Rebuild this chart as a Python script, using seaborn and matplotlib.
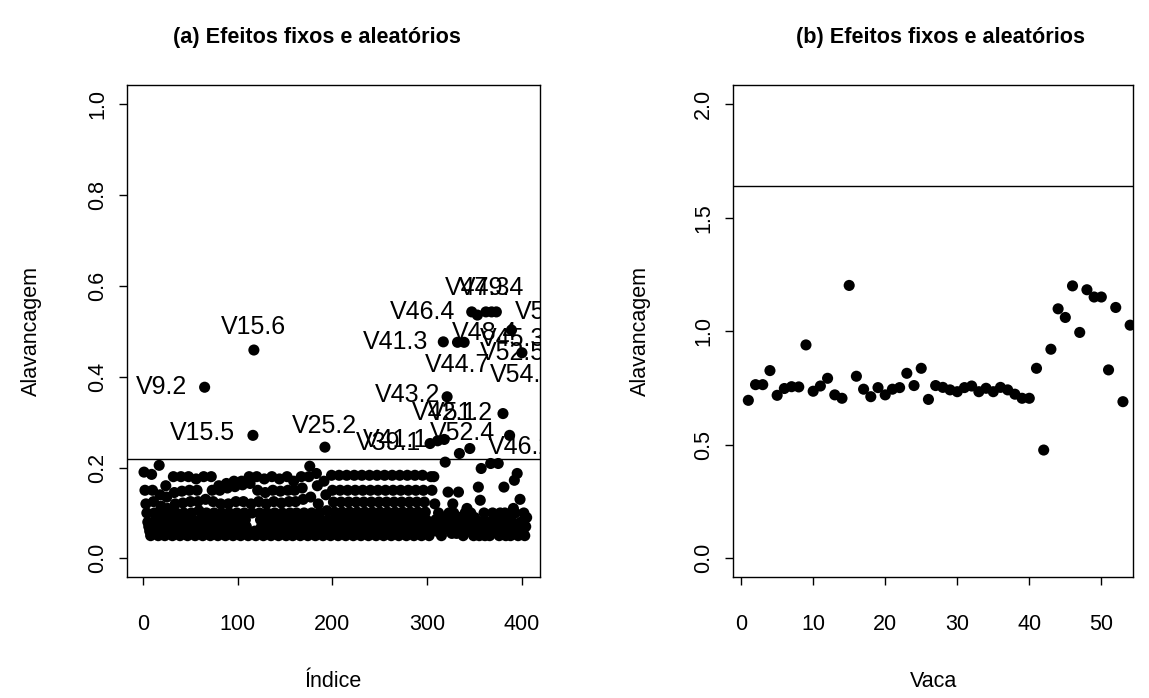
import matplotlib
matplotlib.use("Agg")
import matplotlib.pyplot as plt
import pandas as pd
import seaborn as sns

# ------------------------------------------------------------
# (a) leverage of each observation, one row per cow (V1 .. V54)
# ------------------------------------------------------------
leverage_obs = [
    0.190, 0.150, 0.120, 0.100, 0.080, 0.070, 0.060, 0.050,   # V1
    0.185, 0.150, 0.125, 0.100, 0.085, 0.065, 0.055, 0.050,   # V2
    0.205, 0.140, 0.115, 0.095, 0.080, 0.065, 0.050,          # V3
    0.160, 0.135, 0.110, 0.095, 0.080, 0.070, 0.060, 0.050,   # V4
    0.180, 0.145, 0.120, 0.100, 0.085, 0.070, 0.060, 0.050,   # V5
    0.180, 0.148, 0.122, 0.100, 0.085, 0.070, 0.060, 0.050,   # V6
    0.180, 0.150, 0.125, 0.100, 0.085, 0.070, 0.060, 0.050,   # V7
    0.175, 0.150, 0.125, 0.105, 0.085, 0.070, 0.060, 0.050,   # V8
    0.180, 0.377, 0.130, 0.100, 0.085, 0.070, 0.060, 0.050,   # V9
    0.180, 0.150, 0.125, 0.100, 0.085, 0.070, 0.060, 0.050,   # V10
    0.160, 0.150, 0.120, 0.100, 0.085, 0.070, 0.060, 0.050,   # V11
    0.165, 0.155, 0.120, 0.100, 0.085, 0.070, 0.060, 0.050,   # V12
    0.170, 0.158, 0.125, 0.100, 0.085, 0.070, 0.060, 0.050,   # V13
    0.170, 0.162, 0.125, 0.100, 0.085, 0.070, 0.060, 0.050,   # V14
    0.180, 0.165, 0.120, 0.100, 0.271, 0.459, 0.060, 0.050,   # V15
    0.180, 0.150, 0.125, 0.100, 0.085, 0.070, 0.060, 0.050,   # V16
    0.175, 0.145, 0.120, 0.100, 0.085, 0.070, 0.060, 0.050,   # V17
    0.180, 0.150, 0.125, 0.100, 0.085, 0.070, 0.060, 0.050,   # V18
    0.175, 0.148, 0.122, 0.100, 0.085, 0.070, 0.060, 0.050,   # V19
    0.180, 0.150, 0.125, 0.100, 0.080, 0.065, 0.050,          # V20
    0.170, 0.150, 0.125, 0.100, 0.085, 0.070, 0.060, 0.050,   # V21
    0.180, 0.155, 0.130, 0.100, 0.085, 0.070, 0.060, 0.050,   # V22
    0.180, 0.203, 0.135, 0.100, 0.085, 0.070, 0.060, 0.050,   # V23
    0.187, 0.160, 0.120, 0.100, 0.085, 0.070, 0.060, 0.050,   # V24
    0.170, 0.245, 0.140, 0.105, 0.085, 0.070, 0.060, 0.050,   # V25
    0.183, 0.150, 0.124, 0.102, 0.085, 0.070, 0.060, 0.050,   # V26
    0.183, 0.150, 0.124, 0.102, 0.085, 0.070, 0.060, 0.050,   # V27
    0.183, 0.150, 0.124, 0.102, 0.085, 0.070, 0.060, 0.050,   # V28
    0.183, 0.150, 0.124, 0.102, 0.085, 0.070, 0.060, 0.050,   # V29
    0.183, 0.150, 0.124, 0.102, 0.085, 0.070, 0.060, 0.050,   # V30
    0.183, 0.150, 0.124, 0.102, 0.085, 0.070, 0.060, 0.050,   # V31
    0.183, 0.150, 0.124, 0.102, 0.085, 0.070, 0.060, 0.050,   # V32
    0.183, 0.150, 0.124, 0.102, 0.085, 0.070, 0.060, 0.050,   # V33
    0.183, 0.150, 0.124, 0.102, 0.085, 0.070, 0.060, 0.050,   # V34
    0.183, 0.150, 0.124, 0.102, 0.085, 0.070, 0.060, 0.050,   # V35
    0.183, 0.150, 0.124, 0.102, 0.085, 0.070, 0.060, 0.050,   # V36
    0.183, 0.150, 0.124, 0.102, 0.085, 0.070, 0.060, 0.050,   # V37
    0.183, 0.150, 0.124, 0.102, 0.085, 0.070, 0.060, 0.050,   # V38
    0.253, 0.180, 0.150, 0.070,                               # V39
    0.180, 0.120, 0.085, 0.060,                               # V40
    0.259, 0.100, 0.080, 0.060, 0.050, 0.070, 0.477, 0.262,   # V41
    0.212, 0.090,                                             # V42
    0.356, 0.146, 0.100, 0.080, 0.060, 0.055,                 # V43
    0.120, 0.100, 0.080, 0.065, 0.055, 0.476, 0.146, 0.231,   # V44
    0.090, 0.070, 0.060, 0.050, 0.476, 0.100, 0.080, 0.110,   # V45
    0.085, 0.060, 0.242, 0.100, 0.543, 0.070, 0.050,          # V46
    0.090, 0.070, 0.060, 0.536, 0.157, 0.050, 0.128,          # V47
    0.198, 0.080, 0.060, 0.100, 0.050, 0.543, 0.070,          # V48
    0.080, 0.060, 0.050, 0.209, 0.543, 0.100, 0.070,          # V49
    0.090, 0.070, 0.543, 0.060, 0.209, 0.050, 0.100,          # V50
    0.080, 0.060, 0.319, 0.157, 0.100, 0.050, 0.070,          # V51
    0.090, 0.060, 0.271, 0.050, 0.503, 0.080, 0.110,          # V52
    0.172, 0.100, 0.070, 0.187, 0.050, 0.060,                 # V53
    0.130, 0.080, 0.453, 0.060, 0.100, 0.050, 0.070, 0.090,   # V54
]
cutoff_a = 0.22

# labels of the flagged observations: text, x, y, alignment
label_text = ["V9.2", "V15.6", "V15.5", "V25.2", "V39.1", "V41.1", "V52.4",
              "V46.2", "V43.2", "V42.1", "V51.2", "V44.7", "V41.3", "V48.4",
              "V45.3", "V52.5", "V54.7", "V46.4", "V47.3", "V49.4", "V50.3"]
label_x = [46.1, 116.1, 97.1, 192.0, 293.4, 300.8, 337.0,
           364.0, 313.5, 283.9, 369.4, 332.0, 300.8, 326.0,
           355.7, 355.7, 366.0, 329.3, 353.6, 368.3, 392.6]
label_y = [0.378, 0.510, 0.276, 0.291, 0.255, 0.260, 0.276,
           0.245, 0.359, 0.320, 0.320, 0.425, 0.477, 0.496,
           0.483, 0.452, 0.404, 0.543, 0.595, 0.595, 0.543]
label_ha = ["right", "center", "right", "center", "right", "right", "center",
            "left", "right", "left", "right", "center", "right", "left",
            "left", "left", "left", "right", "center", "center", "left"]

# ------------------------------------------------------------
# (b) leverage of each cow
# ------------------------------------------------------------
cow_leverage = [
    0.696, 0.765, 0.765, 0.827, 0.718, 0.748, 0.756, 0.755, 0.940, 0.736,
    0.759, 0.793, 0.720, 0.705, 1.202, 0.802, 0.745, 0.712, 0.752, 0.720,
    0.745, 0.752, 0.815, 0.761, 0.837, 0.700, 0.761, 0.753, 0.742, 0.734,
    0.752, 0.759, 0.734, 0.749, 0.734, 0.753, 0.742, 0.723, 0.705, 0.705,
    0.837, 0.477, 0.921, 1.099, 1.061, 1.200, 0.995, 1.183, 1.151, 1.151,
    0.830, 1.105, 0.690, 1.027,
]
cutoff_b = 1.64

titles = ["(a) Efeitos fixos e aleatórios", "(b) Efeitos fixos e aleatórios"]

df_a = pd.DataFrame({"indice": range(1, len(leverage_obs) + 1),
                     "alav": leverage_obs})
df_b = pd.DataFrame({"vaca": range(1, len(cow_leverage) + 1),
                     "alav": cow_leverage})

sns.set_theme(style="ticks")
plt.rcParams["font.family"] = ["Liberation Sans", "DejaVu Sans"]
plt.rcParams.update({
    "text.color": "black", "axes.labelcolor": "black",
    "xtick.color": "black", "ytick.color": "black",
    "axes.edgecolor": "black", "axes.linewidth": 1.0,
    "xtick.major.size": 5.5, "ytick.major.size": 5.5,
    "xtick.major.pad": 21, "ytick.major.pad": 8,
})

FS = 15.5
fig = plt.figure(figsize=(11.49, 6.98), dpi=100)
ax_a = fig.add_axes([0.1105, 0.1734, 0.3594, 0.7049])
ax_b = fig.add_axes([0.6380, 0.1734, 0.3481, 0.7049])

# ---- panel a
sns.scatterplot(data=df_a, x="indice", y="alav", ax=ax_a, color="black",
                s=64, edgecolor="none", linewidth=0)
ax_a.axhline(cutoff_a, color="black", lw=1.0)
for t, x, y, ha in zip(label_text, label_x, label_y, label_ha):
    ax_a.text(x, y, t, ha=ha, va="center", fontsize=18, clip_on=True)
ax_a.set_xlim(-17, 419)
ax_a.set_ylim(-0.041, 1.043)
ax_a.set_xticks([0, 100, 200, 300, 400])
ax_a.set_yticks([0.0, 0.2, 0.4, 0.6, 0.8, 1.0])
ax_a.set_yticklabels(["0.0", "0.2", "0.4", "0.6", "0.8", "1.0"])
ax_a.set_xlabel("Índice", fontsize=FS)
ax_a.set_ylabel("Alavancagem", fontsize=FS)

# ---- panel b
sns.scatterplot(data=df_b, x="vaca", y="alav", ax=ax_b, color="black",
                s=64, edgecolor="none", linewidth=0)
ax_b.axhline(cutoff_b, color="black", lw=1.0)
ax_b.set_xlim(-1.12, 54.4)
ax_b.set_ylim(-0.082, 2.085)
ax_b.set_xticks([0, 10, 20, 30, 40, 50])
ax_b.set_yticks([0.0, 0.5, 1.0, 1.5, 2.0])
ax_b.set_yticklabels(["0.0", "0.5", "1.0", "1.5", "2.0"])
ax_b.set_xlabel("Vaca", fontsize=FS)
ax_b.set_ylabel("Alavancagem", fontsize=FS)

for ax in (ax_a, ax_b):
    for sp in ax.spines.values():
        sp.set_visible(True)
        sp.set_color("black")
    ax.tick_params(colors="black", labelsize=FS, width=1.0)
    for lab in ax.get_yticklabels():
        lab.set_rotation(90)
        lab.set_va("center")
    ax.xaxis.set_label_coords(0.5, -0.192)
    ax.yaxis.set_label_coords(-0.205, 0.5)

fig.text(317 / 1149, 1 - 37 / 698, titles[0], ha="center", va="center",
         fontsize=15.6, fontweight="bold")
fig.text(940 / 1149, 1 - 37 / 698, titles[1], ha="center", va="center",
         fontsize=15.6, fontweight="bold")

fig.savefig("out.png", dpi=100, facecolor="white")
